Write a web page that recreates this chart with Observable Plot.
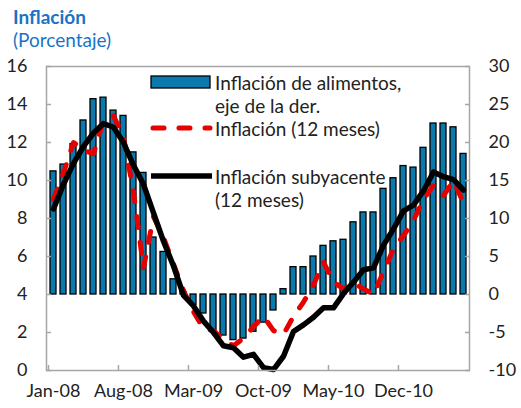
<!DOCTYPE html>
<html><head><meta charset="utf-8">
<script src="https://cdn.jsdelivr.net/npm/d3@7"></script>
<script src="https://cdn.jsdelivr.net/npm/@observablehq/plot@0.6"></script>
<style>
body{margin:0;background:#fff;font-family:Lato,"Open Sans",sans-serif;}
#wrap{position:relative;width:521px;height:408px;overflow:hidden;}
#title{position:absolute;left:13px;top:5px;color:#1a73c6;font-size:19px;line-height:23px;}
#title b{font-weight:700;}
#chart{position:absolute;left:0;top:56px;}
.lg{position:absolute;left:215px;font-size:19px;line-height:23px;color:#222;white-space:nowrap;}
#sw{position:absolute;left:148px;top:66px;}
</style></head><body>
<div id="wrap">
  <div id="title"><b>Inflación</b><br>(Porcentaje)</div>
  <div id="chart"></div>
  <svg id="sw" width="66" height="120"></svg>
  <div class="lg" id="lg1" style="top:71px">Inflación de alimentos,<br>eje de la der.</div>
  <div class="lg" id="lg2" style="top:117px">Inflación (12 meses)</div>
  <div class="lg" id="lg3" style="top:165px">Inflación subyacente<br>(12 meses)</div>
</div>
<script>
// ---- data ----
const months = ["Jan-08","Feb-08","Mar-08","Apr-08","May-08","Jun-08","Jul-08","Aug-08","Sep-08","Oct-08","Nov-08","Dec-08",
  "Jan-09","Feb-09","Mar-09","Apr-09","May-09","Jun-09","Jul-09","Aug-09","Sep-09","Oct-09","Nov-09","Dec-09",
  "Jan-10","Feb-10","Mar-10","Apr-10","May-10","Jun-10","Jul-10","Aug-10","Sep-10","Oct-10","Nov-10","Dec-10",
  "Jan-11","Feb-11","Mar-11","Apr-11","May-11","Jun-11"];
// food inflation, right axis (%)
const foodInflation = [16.2,17.1,19.8,22.9,25.7,25.9,24.2,23.5,18.7,16.0,7.5,5.6,2.0,0.3,-1.4,-2.5,-4.7,-5.4,-6.0,-5.8,-4.9,-3.7,-2.1,0.7,3.6,3.6,5.0,6.4,7.0,7.2,9.5,10.8,10.8,13.9,15.3,16.9,16.7,19.3,22.5,22.5,22.0,18.5];
// headline inflation, 12 months, left axis (%)
const headline = [9.0,10.4,12.0,11.6,11.4,13.2,13.4,12.3,9.4,5.4,8.1,7.0,5.6,4.2,3.1,2.2,2.1,1.6,1.3,1.7,2.3,2.85,2.1,1.9,2.85,3.6,4.5,5.7,4.65,4.3,4.6,4.3,4.0,5.2,6.4,7.1,7.9,9.0,9.75,9.2,10.0,8.8];
// core inflation, 12 months, left axis (%)
const core = [8.5,9.8,10.9,11.8,12.5,13.0,12.8,12.0,10.8,9.8,8.3,6.8,5.5,3.95,3.4,2.6,2.0,1.3,1.2,0.7,0.85,0.15,0.05,0.75,2.05,2.4,2.8,3.3,3.3,4.05,4.65,5.3,5.4,6.6,7.45,8.4,8.7,9.45,10.45,10.2,10.05,9.5];
const leftTicks = [0,2,4,6,8,10,12,14,16];
const rightTicks = [-10,-5,0,5,10,15,20,25,30];
const xTickLabels = ["Jan-08","Aug-08","Mar-09","Oct-09","May-10","Dec-10"];

// right axis [-10,30] shares the frame with left axis [0,16]
const toLeft = r => (r + 10) * 16 / 40;
const rows = months.map((m, i) => ({month: m, food: foodInflation[i], headline: headline[i], core: core[i]}));

const BAR = "#0a7aad", RED = "#e60000", AXIS = "#a6a6a6";
const W = 521, ML = 46, MR = 52;
const step = (W - ML - MR) / months.length;
const rightPos = rightTicks.map(toLeft);

const chart = Plot.plot({
  width: W, height: 352,
  marginLeft: ML, marginRight: MR, marginTop: 10, marginBottom: 38,
  style: {fontFamily: "Lato, 'Open Sans', sans-serif", fontSize: "18px", color: "#222", background: "#fff", overflow: "visible"},
  x: {type: "band", domain: months, paddingInner: 0.42, paddingOuter: 0.21},
  y: {domain: [0, 16]},
  marks: [
    Plot.barY(rows, {x: "month", y1: toLeft(0), y2: d => toLeft(d.food), fill: BAR, stroke: "#000", strokeWidth: 1.3}),
    Plot.line(rows, {x: "month", y: "headline", stroke: RED, strokeWidth: 5, strokeDasharray: "11,15", strokeLinecap: "round"}),
    Plot.line(rows, {x: "month", y: "core", stroke: "#000", strokeWidth: 5.5, strokeLinejoin: "round"}),
    Plot.frame({stroke: AXIS, strokeWidth: 1.5}),
    // left axis
    Plot.axisY({anchor: "left", ticks: leftTicks, tickSize: 0, tickPadding: 19, tickFormat: d => String(d), label: null}),
    Plot.axisY({anchor: "left", ticks: leftTicks, tickSize: 5, dx: 5, stroke: AXIS, strokeWidth: 1.5, tickFormat: () => "", label: null}),
    // right axis
    Plot.axisY({anchor: "right", ticks: rightPos, tickSize: 0, tickPadding: 19, tickFormat: v => String(rightTicks[rightPos.indexOf(v)]), label: null}),
    Plot.axisY({anchor: "right", ticks: rightPos, tickSize: 5, dx: -5, stroke: AXIS, strokeWidth: 1.5, tickFormat: () => "", label: null}),
    // bottom axis
    Plot.axisX({anchor: "bottom", ticks: xTickLabels, tickSize: 0, tickPadding: 14, label: null}),
    Plot.axisX({anchor: "bottom", ticks: xTickLabels, tickSize: 5, dy: -5, dx: -step / 2, stroke: AXIS, strokeWidth: 1.5, tickFormat: () => "", label: null})
  ]
});
document.getElementById("chart").appendChild(chart);

// legend swatches
const sw = d3.select("#sw");
sw.append("rect").attr("x", 3).attr("y", 10).attr("width", 59).attr("height", 12).attr("fill", BAR).attr("stroke", "#000").attr("stroke-width", 1.3);
sw.append("line").attr("x1", 5).attr("x2", 62).attr("y1", 62).attr("y2", 62).attr("stroke", RED).attr("stroke-width", 5).attr("stroke-dasharray", "11,15").attr("stroke-linecap", "round");
sw.append("line").attr("x1", 3).attr("x2", 64).attr("y1", 110).attr("y2", 110).attr("stroke", "#000").attr("stroke-width", 5.5);
</script>
</body></html>
